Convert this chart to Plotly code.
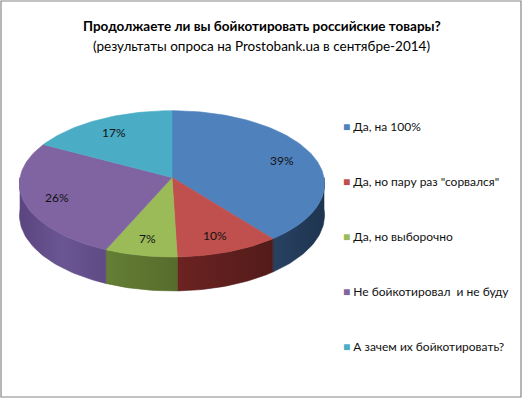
import math
import plotly.graph_objects as go

# ---- data ----
categories = ["Да, на 100%", "Да, но пару раз \"сорвался\"", "Да, но выборочно",
              "Не бойкотировал  и не буду", "А зачем их бойкотировать?"]
values = [39, 10, 7, 26, 17]
labels = ["39%", "10%", "7%", "26%", "17%"]
title = "Продолжаете ли вы бойкотировать российские товары?"
subtitle = "(результаты опроса на Prostobank.ua в сентябре-2014)"

top_colors = ["#4f81bd", "#c0504d", "#9bbb59", "#8064a2", "#4bacc6"]
side_scales = [
    [[0, "#284262"], [1, "#1e3450"]],
    [[0, "#6c2321"], [1, "#521b1a"]],
    [[0, "#657f35"], [1, "#566c2c"]],
    [[0, "#5a4580"], [0.5, "#6b5694"], [1, "#5e4a84"]],
    [[0, "#2f7c90"], [1, "#2f7c90"]],
]

W, H = 523, 399
FONT = "Lato, 'Open Sans', sans-serif"

# ---- projection geometry (style) ----
cx, cy = 172.0, 177.5
a, b, p, h = 152.0, 72.6, 0.0868, 31.0


def proj(theta, r=1.0, drop=0.0):
    t = math.radians(theta)
    X = r * math.sin(t)
    Z = r * math.cos(t)
    s = 1.0 / (1.0 + p * Z)
    return cx + a * X * s, cy - b * Z * s + h * s * drop


def arc(t1, t2, drop=0.0, n=None):
    n = n or max(4, int(abs(t2 - t1) / 1.5) + 2)
    pts = [proj(t1 + (t2 - t1) * i / (n - 1), 1.0, drop) for i in range(n)]
    return [q[0] for q in pts], [q[1] for q in pts]


total = float(sum(values))
angles = [0.0]
for v in values:
    angles.append(angles[-1] + 360.0 * v / total)

fig = go.Figure()

# side faces (visible front half: 90..270 deg)
for i, v in enumerate(values):
    t1, t2 = max(angles[i], 90.0), min(angles[i + 1], 270.0)
    if t2 <= t1:
        continue
    xs_t, ys_t = arc(t1, t2, 0.0)
    xs_b, ys_b = arc(t1, t2, 1.0)
    xs = xs_t + xs_b[::-1] + [xs_t[0]]
    ys = ys_t + ys_b[::-1] + [ys_t[0]]
    sc = side_scales[i]
    fig.add_trace(go.Scatter(
        x=xs, y=ys, mode="lines", fill="toself",
        fillcolor=sc[0][1],
        fillgradient=dict(type="horizontal", colorscale=sc),
        line=dict(width=0.6, color=sc[-1][1]), hoverinfo="skip", showlegend=False))

# top faces
for i, v in enumerate(values):
    xs_a, ys_a = arc(angles[i], angles[i + 1], 0.0)
    xs = [cx] + xs_a + [cx]
    ys = [cy] + ys_a + [cy]
    fig.add_trace(go.Scatter(
        x=xs, y=ys, mode="lines", fill="toself", fillcolor=top_colors[i],
        line=dict(width=0.6, color=top_colors[i]), hoverinfo="text",
        text=f"{categories[i]}: {labels[i]}", showlegend=False))

annotations = []
# data labels
for i, v in enumerate(values):
    mid = (angles[i] + angles[i + 1]) / 2.0
    lx, ly = proj(mid, 0.78)
    annotations.append(dict(x=lx, y=ly + 1, text=labels[i], showarrow=False,
                            font=dict(family=FONT, size=12, color="#111111"),
                            xanchor="center", yanchor="middle"))

# legend
for i, c in enumerate(categories):
    yy = 126 + 55 * i
    annotations.append(dict(x=341, y=yy, xanchor="left", yanchor="middle", showarrow=False,
                            text=f"<span style='color:{top_colors[i]}'>■</span> {c}",
                            font=dict(family=FONT, size=12, color="#111111")))

# titles
annotations.append(dict(x=W / 2, y=26, text=f"<b>{title}</b>", showarrow=False,
                        xanchor="center", yanchor="middle",
                        font=dict(family=FONT, size=13.5, color="#000000")))
annotations.append(dict(x=W / 2, y=46, text=subtitle, showarrow=False,
                        xanchor="center", yanchor="middle",
                        font=dict(family=FONT, size=13.5, color="#000000")))

fig.update_layout(
    width=W, height=H, margin=dict(l=0, r=0, t=0, b=0),
    paper_bgcolor="white", plot_bgcolor="white",
    xaxis=dict(range=[0, W], visible=False, fixedrange=True),
    yaxis=dict(range=[H, 0], visible=False, fixedrange=True),
    annotations=annotations,
    shapes=[dict(type="rect", xref="x", yref="y", x0=1, y0=1, x1=521, y1=397,
                 line=dict(color="#868686", width=1.2))],
    showlegend=False,
)

fig.write_html("out.html", config={"displayModeBar": False},
               post_script="document.body.style.margin='0';document.body.style.overflow='hidden';")
